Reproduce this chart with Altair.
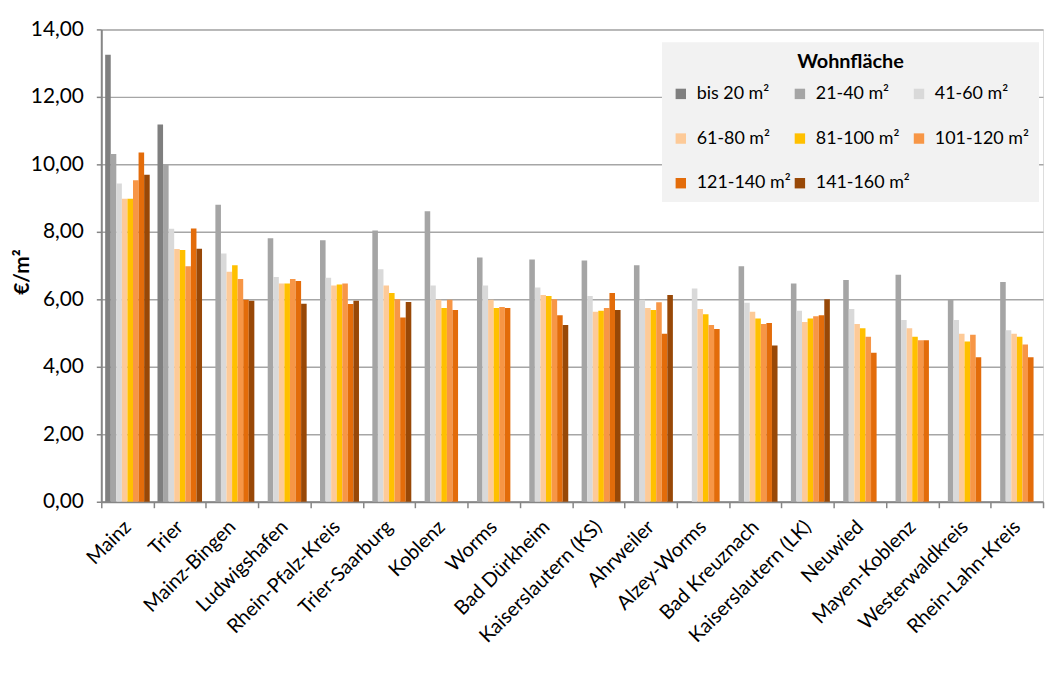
import altair as alt
import pandas as pd

regions = ["Mainz", "Trier", "Mainz-Bingen", "Ludwigshafen", "Rhein-Pfalz-Kreis",
           "Trier-Saarburg", "Koblenz", "Worms", "Bad Dürkheim", "Kaiserslautern (KS)",
           "Ahrweiler", "Alzey-Worms", "Bad Kreuznach", "Kaiserslautern (LK)",
           "Neuwied", "Mayen-Koblenz", "Westerwaldkreis", "Rhein-Lahn-Kreis"]

series_names = ["bis 20 m²", "21-40 m²", "41-60 m²", "61-80 m²",
                "81-100 m²", "101-120 m²", "121-140 m²", "141-160 m²"]

bis_20 = [13.25, 11.18, None, None, None, None, None, None, None, None,
          None, None, None, None, None, None, None, None]
m_21_40 = [10.31, 10.00, 8.80, 7.81, 7.75, 8.04, 8.61, 7.24, 7.18, 7.15,
           7.01, None, 6.98, 6.47, 6.57, 6.73, 5.98, 6.51]
m_41_60 = [9.43, 8.09, 7.36, 6.66, 6.64, 6.89, 6.41, 6.41, 6.35, 6.10,
           5.99, 6.32, 5.90, 5.66, 5.71, 5.39, 5.39, 5.08]
m_61_80 = [8.98, 7.49, 6.82, 6.47, 6.41, 6.41, 5.99, 5.99, 6.13, 5.63,
           5.74, 5.71, 5.63, 5.33, 5.27, 5.14, 4.98, 4.98]
m_81_100 = [8.98, 7.46, 7.01, 6.47, 6.44, 6.19, 5.74, 5.74, 6.10, 5.66,
            5.68, 5.56, 5.43, 5.43, 5.14, 4.89, 4.75, 4.89]
m_101_120 = [9.53, 6.98, 6.60, 6.60, 6.47, 6.00, 5.99, 5.77, 6.00, 5.74,
             5.91, 5.24, 5.27, 5.50, 4.89, 4.79, 4.95, 4.66]
m_121_140 = [10.35, 8.10, 5.99, 6.54, 5.86, 5.46, 5.68, 5.74, 5.53, 6.19,
             4.98, 5.12, 5.30, 5.53, 4.42, 4.79, 4.28, 4.28]
m_141_160 = [9.69, 7.50, 5.96, 5.87, 5.96, 5.92, None, None, 5.24, 5.68,
             6.13, None, 4.63, 6.00, None, None, None, None]

colors = ["#7f7f7f", "#a5a5a5", "#d9d9d9", "#fdca98",
          "#ffc000", "#f79646", "#e36c0a", "#984807"]

y_ticks = [0, 2, 4, 6, 8, 10, 12, 14]

all_series = [bis_20, m_21_40, m_41_60, m_61_80, m_81_100, m_101_120, m_121_140, m_141_160]
rows = []
for name, vals in zip(series_names, all_series):
    for reg, v in zip(regions, vals):
        if v is not None:
            rows.append({"Region": reg, "Wohnfläche": name, "Wert": v})
df = pd.DataFrame(rows)

FONT = "Lato"

chart = alt.Chart(df).mark_bar().encode(
    x=alt.X("Region:N", sort=regions,
            scale=alt.Scale(paddingInner=0, paddingOuter=0),
            axis=alt.Axis(title=None, labelAngle=-45, labelAlign="right",
                          labelBaseline="middle", labelPadding=16,
                          labelFontSize=20, labelFont=FONT, labelColor="#000000",
                          tickBand="extent", ticks=True, tickSize=6,
                          tickColor="#868686", tickWidth=1.5,
                          domainColor="#868686", domainWidth=2, grid=False)),
    xOffset=alt.XOffset("Wohnfläche:N", sort=series_names,
                        scale=alt.Scale(domain=series_names, paddingInner=0, paddingOuter=0.7)),
    y=alt.Y("Wert:Q",
            scale=alt.Scale(domain=[0, 14], nice=False),
            axis=alt.Axis(title="€/m²", values=y_ticks,
                          labelExpr="replace(format(datum.value, '.2f'), '.', ',')",
                          labelFontSize=21, labelFont=FONT, labelColor="#000000",
                          labelPadding=13, tickSize=5, tickColor="#868686", tickWidth=1.5,
                          domainColor="#868686", domainWidth=2,
                          gridColor="#a6a6a6", gridWidth=1.5,
                          titleFontSize=21, titleFont=FONT, titleFontWeight="bold",
                          titleColor="#000000", titleAngle=-90,
                          titleX=-79, titleY=244, titleAlign="center", titleBaseline="middle")),
    color=alt.Color("Wohnfläche:N", sort=series_names,
                    scale=alt.Scale(domain=series_names, range=colors),
                    legend=alt.Legend(title="Wohnfläche", orient="none", direction="horizontal",
                                      legendX=565, legendY=13, columns=3,
                                      symbolType="square", symbolSize=110,
                                      symbolStrokeWidth=0, symbolOpacity=1,
                                      fillColor="#f2f2f2", padding=10,
                                      rowPadding=27, columnPadding=-5,
                                      labelFontSize=18, labelFont=FONT, labelColor="#000000",
                                      labelOffset=7, labelLimit=300,
                                      titleFontSize=20, titleFont=FONT,
                                      titleFontWeight="bold", titleColor="#000000",
                                      titleAnchor="middle", titlePadding=13)),
).properties(
    width=949, height=476,
    autosize=alt.AutoSizeParams(type="none"),
    padding={"left": 94, "top": 19, "right": 3, "bottom": 170},
).configure_view(stroke=None).configure(background="white")

chart.save("out.html", embed_options={"renderer": "svg", "actions": False})
